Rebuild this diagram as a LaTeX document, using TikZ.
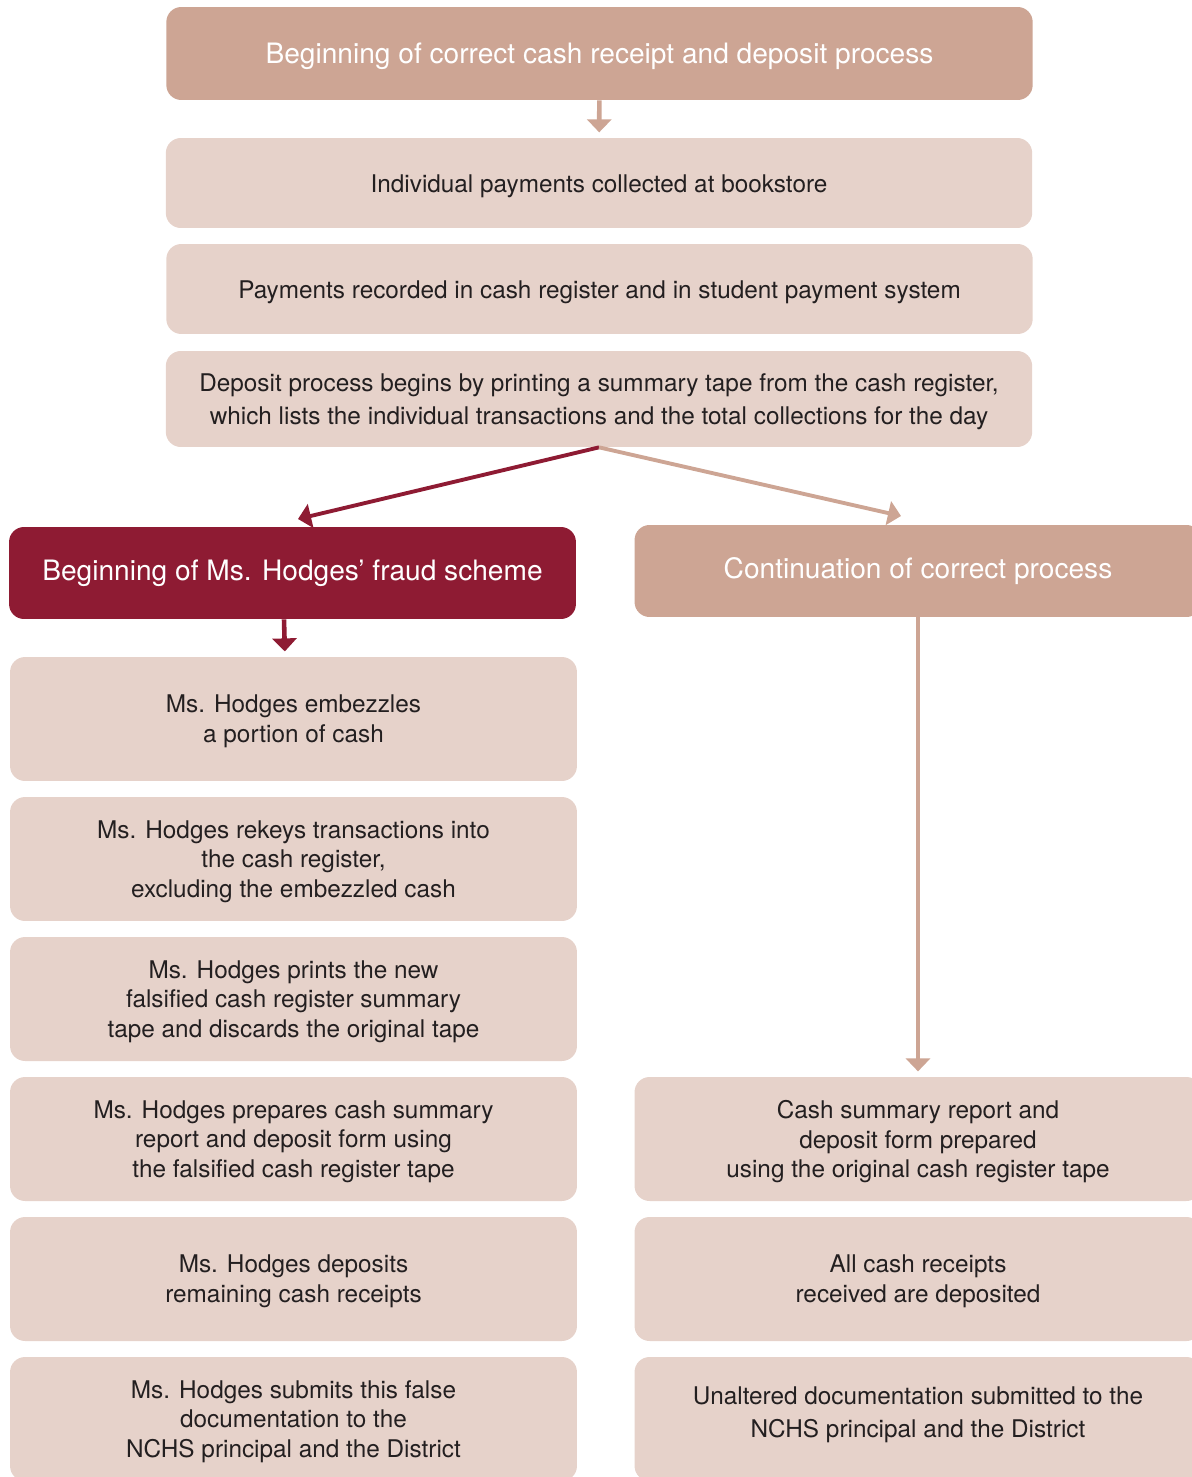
\documentclass[tikz,border=0pt]{standalone}
\usepackage{fontspec}
\setmainfont{TeX Gyre Heros}
\usetikzlibrary{arrows.meta,calc,positioning}

\definecolor{tan}{RGB}{205,165,148}
\definecolor{pale}{RGB}{230,210,202}
\definecolor{fraudred}{RGB}{142,27,51}
\definecolor{ink}{RGB}{35,31,32}

\tikzset{
  headbox/.style={rounded corners=0.3cm,fill=tan,text=white,align=center,
    font=\fontsize{16}{19}\selectfont,inner sep=0pt},
  stepbox/.style={rounded corners=0.3cm,fill=pale,text=ink,align=center,
    font=\fontsize{13.85}{17}\selectfont,inner sep=0pt},
  sunk/.style={execute at begin node={\rule{0pt}{0.96em}}},
  wide/.style={minimum width=17.33cm},
  half/.style={minimum width=11.34cm,minimum height=2.48cm,text depth=0pt},
  tanarrow/.style={draw=tan,line width=2.6pt,-{Triangle[width=0.48cm,length=0.26cm]}},
  redarrow/.style={draw=fraudred,line width=2.6pt,-{Triangle[width=0.48cm,length=0.26cm]}},
}

\begin{document}
\begin{tikzpicture}[x=0.02cm,y=-0.02cm]
  \useasboundingbox (0,0) rectangle (1192,1477);
  \clip (0,0) rectangle (1192,1477);
  % proceso correcto, parte comun
  \node[headbox,sunk,wide,minimum height=1.86cm] (start) at (599.5,53.5)
    {Beginning of correct cash receipt and deposit process};
  \node[stepbox,sunk,wide,minimum height=1.8cm] (collect) at (599,183)
    {Individual payments collected at bookstore};
  \node[stepbox,sunk,wide,minimum height=1.8cm] (record) at (599.5,289)
    {Payments recorded in cash register and in student payment system};
  \node[stepbox,wide,minimum height=1.92cm,text depth=0pt,
    font=\fontsize{13.85}{18.7}\selectfont] (tape) at (599,399)
    {Deposit process begins by printing a summary tape from the cash register,\\
     which lists the individual transactions and the total collections for the day};
  \draw[tanarrow,shorten >=3pt] (start) -- (collect);
  % cabeceras de las dos ramas
  \node[headbox,half,minimum height=1.84cm,text depth=,fill=fraudred] (fraud) at (292.5,573)
    {Beginning of Ms. Hodges' fraud scheme};
  \node[headbox,half,minimum height=1.84cm,text depth=] (correct) at (918,571)
    {Continuation of correct process};
  \coordinate (ltip) at (298,519);
  \coordinate (rtip) at (901,516);
  \draw[redarrow,line width=2.2pt] (tape.south) -- (ltip);
  \draw[tanarrow,line width=2.2pt] (tape.south) -- (rtip);
  % rama del fraude
  \node[stepbox,half] (embezzle) at (293.5,719)
    {Ms. Hodges embezzles\\a portion of cash};
  \node[stepbox,half] (rekey) at (293.5,859)
    {Ms. Hodges rekeys transactions into\\the cash register,\\excluding the embezzled cash};
  \node[stepbox,half] (falsetape) at (293.5,999)
    {Ms. Hodges prints the new\\falsified cash register summary\\tape and discards the original tape};
  \node[stepbox,half] (falseform) at (293.5,1139)
    {Ms. Hodges prepares cash summary\\report and deposit form using\\the falsified cash register tape};
  \node[stepbox,half] (falsedep) at (293.5,1279)
    {Ms. Hodges deposits\\remaining cash receipts};
  \node[stepbox,half] (falsesub) at (293.5,1419)
    {Ms. Hodges submits this false\\documentation to the\\NCHS principal and the District};
  \draw[redarrow,shorten >=3pt] ([xshift=-0.17cm]fraud.south) -- ([xshift=-0.17cm]embezzle.north);
  % rama correcta
  \node[stepbox,half] (form) at (918,1139)
    {Cash summary report and\\deposit form prepared\\using the original cash register tape};
  \node[stepbox,half] (deposit) at (918,1279)
    {All cash receipts\\received are deposited};
  \node[stepbox,half,text depth=7.5pt,font=\fontsize{13.85}{18.7}\selectfont] (submit) at (918,1419)
    {Unaltered documentation submitted to the\\NCHS principal and the District};
  \draw[tanarrow,shorten >=3pt] (correct) -- (form);
\end{tikzpicture}
\end{document}
